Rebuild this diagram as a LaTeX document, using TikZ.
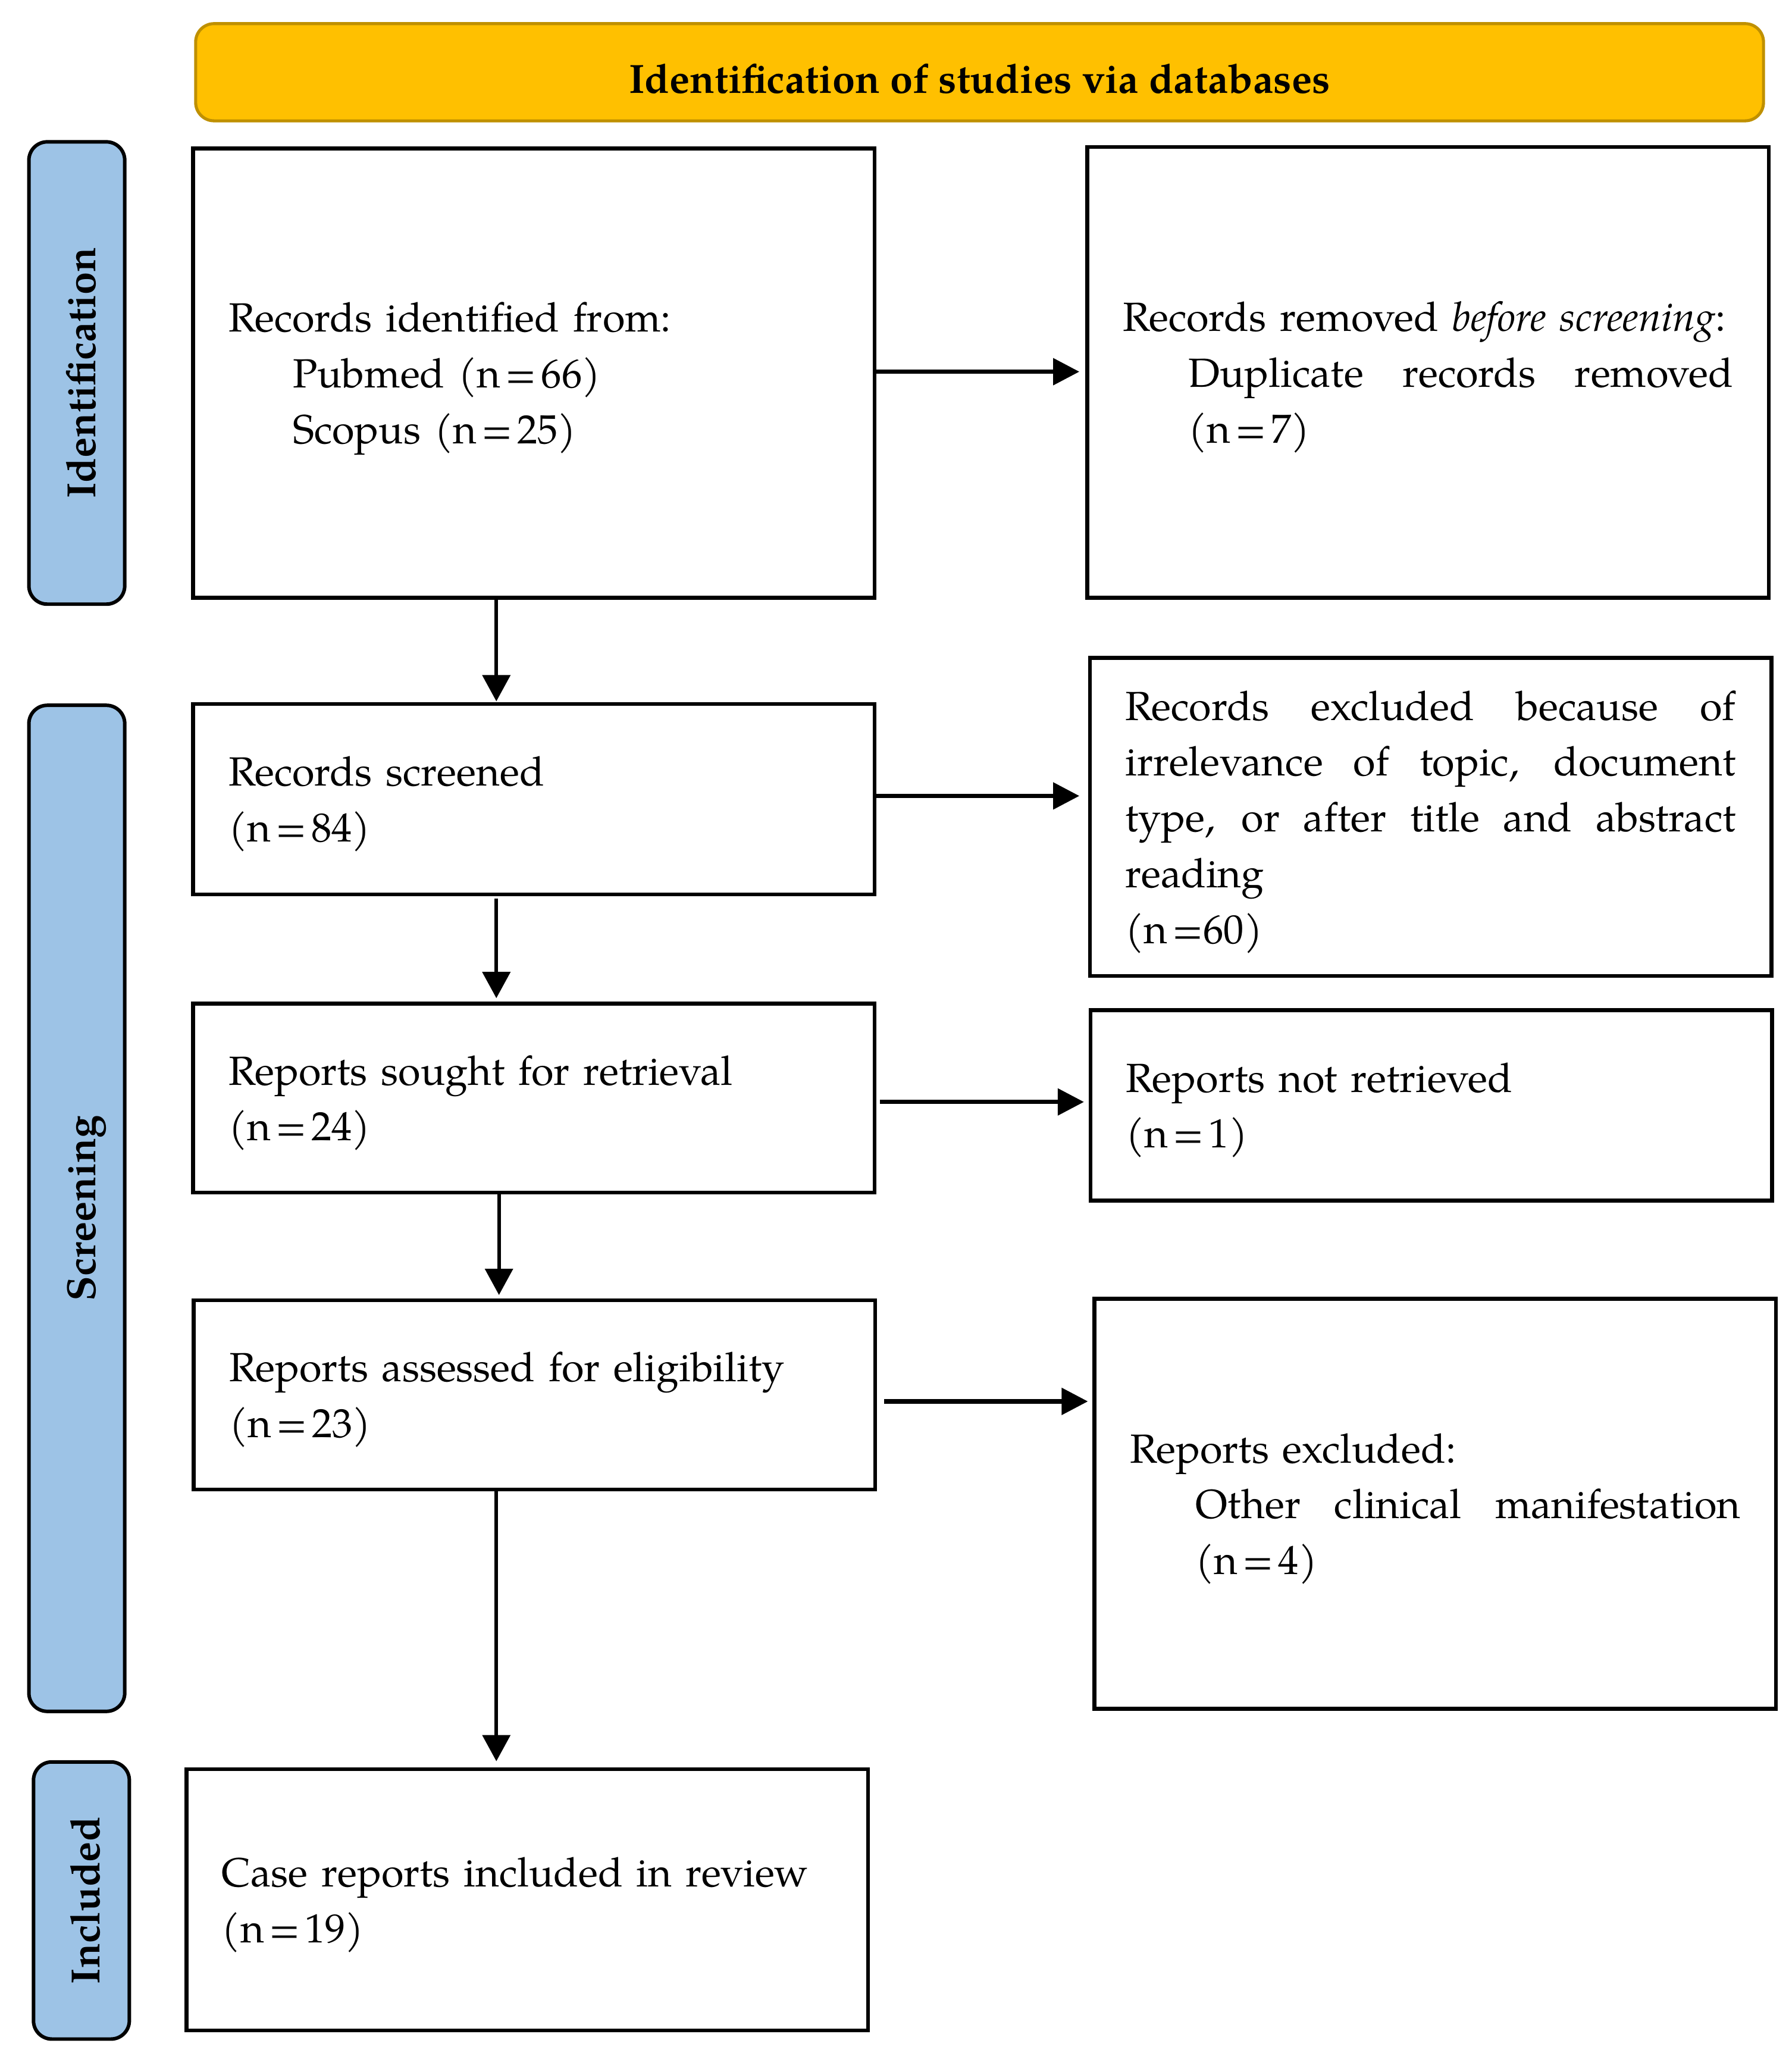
\documentclass[tikz,border=0pt]{standalone}
\usepackage{fontspec}
\setmainfont{texgyrepagella}[Extension=.otf, UprightFont=*-regular, BoldFont=*-bold, ItalicFont=*-italic, BoldItalicFont=*-bolditalic]
\usetikzlibrary{arrows.meta}
\definecolor{bannerfill}{HTML}{FFC000}
\definecolor{bannerdraw}{HTML}{BF9000}
\definecolor{sidefill}{HTML}{9DC3E6}
\newlength\tw
\setlength\tw{465pt}
\newcommand\stretchline[2]{{\spaceskip=0.3333em plus 1fil\relax\xspaceskip=\spaceskip\makebox[#1][s]{#2}}}
\newcommand\fullline[1]{\stretchline{\tw}{#1}}
\newcommand\indline[1]{\hspace*{50pt}\stretchline{\dimexpr\tw-50pt\relax}{#1}}
\newcommand\tstrut{\rule{0pt}{31.5pt}}
\newcommand\bstrut{\rule[-9pt]{0pt}{9pt}}
\newcommand\eqsign{\hspace{0.12em}=\hspace{0.12em}}
\begin{document}
\begin{tikzpicture}[x=1pt,y=-1pt,
  flowbox/.style={draw=black, line width=3pt, rectangle, minimum width=519pt,
    inner xsep=27pt, inner ysep=0pt, text width=465pt, align=left,
    font=\fontsize{31pt}{42.5pt}\selectfont},
  sidebox/.style={draw=black, line width=2.7pt, fill=sidefill, rounded corners=14pt,
    minimum width=73pt, inner sep=0pt},
  sidetext/.style={rotate=90, anchor=base, inner sep=0pt,
    font=\fontsize{31pt}{42.5pt}\selectfont\bfseries},
  bannerbox/.style={draw=bannerdraw, fill=bannerfill, line width=2.3pt, rounded corners=14pt,
    minimum width=1194pt, minimum height=74pt, inner sep=0pt},
  bannertext/.style={anchor=base, inner sep=0pt, font=\fontsize{31pt}{42.5pt}\selectfont\bfseries},
  harrow/.style={line width=3.3pt, -{Triangle[length=20pt,width=20pt]}},
  varrow/.style={line width=2.8pt, -{Triangle[length=20pt,width=21pt]}}
]
\path[use as bounding box] (0,0) rectangle (1364.3,1567.7);

% banner
\node[bannerbox] (ban) at (746,55) {};
\node[bannertext] (bant) at (746,71) {Identification of studies via databases};

% side labels
\node[sidebox, minimum height=352pt] (s1) at (58.5,284) {};
\node[sidetext] (s1t) at (72.5,284) {Identification};
\node[sidebox, minimum height=766pt] (s2) at (58.5,920) {};
\node[sidetext] (s2t) at (72.5,920) {Screening};
\node[sidebox, minimum height=211pt] (s3) at (62,1447) {};
\node[sidetext] (s3t) at (76,1447) {Included};

% boxes
\node[flowbox, minimum height=342pt] (b1) at (406.5,284)
  {\tstrut Records identified from:\\
   \hspace*{49pt}Pubmed (n\eqsign 66)\\
   \hspace*{49pt}Scopus (n\eqsign 25)\bstrut};
\node[flowbox, minimum height=343pt] (b2) at (1087.5,283.5)
  {\tstrut Records removed \textit{before screening}:\\
   \indline{Duplicate records removed}\\
   \hspace*{50pt}(n\eqsign 7)\bstrut};
\node[flowbox, minimum height=145pt] (b3) at (406.5,608.5)
  {\tstrut Records screened\\
   (n\eqsign 84)\bstrut};
\node[flowbox, minimum height=242pt] (b4) at (1089.5,622)
  {\tstrut\fullline{Records excluded because of}\\
   \fullline{irrelevance of topic, document}\\
   \fullline{type, or after title and abstract}\\
   reading\\
   (n\hspace{0.12em}=60)\bstrut};
\node[flowbox, minimum height=144pt] (b5) at (406.5,836)
  {\tstrut Reports sought for retrieval\\
   (n\eqsign 24)\bstrut};
\node[flowbox, minimum height=145pt] (b6) at (1090,841.5)
  {\tstrut Reports not retrieved\\
   (n\eqsign 1)\bstrut};
\node[flowbox, minimum height=144pt] (b7) at (407,1062)
  {\tstrut Reports assessed for eligibility\\
   (n\eqsign 23)\bstrut};
\node[flowbox, minimum height=312pt] (b8) at (1093,1145)
  {\tstrut Reports excluded:\\
   \indline{Other clinical manifestation}\\
   \hspace*{50pt}(n\eqsign 4)\bstrut};
\node[flowbox, minimum height=199pt] (b9) at (401.5,1446.5)
  {\tstrut Case reports included in review\\
   (n\eqsign 19)\bstrut};

% horizontal arrows
\coordinate (a12) at ([yshift=1pt]b1.east);
\coordinate (a34) at ([yshift=2.5pt]b3.east);
\coordinate (a56) at ([yshift=-3pt]b5.east);
\coordinate (a78) at ([yshift=-5pt]b7.east);
\draw[harrow, shorten >=4.5pt] (a12) -- (a12 -| b2.west);
\draw[harrow, shorten >=6.5pt] (a34) -- (a34 -| b4.west);
\draw[harrow, shorten <=2.5pt, shorten >=3.5pt] (a56) -- (a56 -| b6.west);
\draw[harrow, shorten <=5.5pt, shorten >=3.5pt] (a78) -- (a78 -| b8.west);

% vertical arrows
\coordinate (cx) at (378,0);
\coordinate (cxb) at (380,0);
\draw[varrow, shorten >=0.5pt] (b1.south -| cx) -- (b3.north -| cx);
\draw[varrow, shorten <=1.5pt, shorten >=2.5pt] (b3.south -| cx) -- (b5.north -| cx);
\draw[varrow, shorten >=2.5pt] (b5.south -| cxb) -- (b7.north -| cxb);
\draw[varrow, shorten >=4.5pt] (b7.south -| cx) -- (b9.north -| cx);
\end{tikzpicture}
\end{document}
